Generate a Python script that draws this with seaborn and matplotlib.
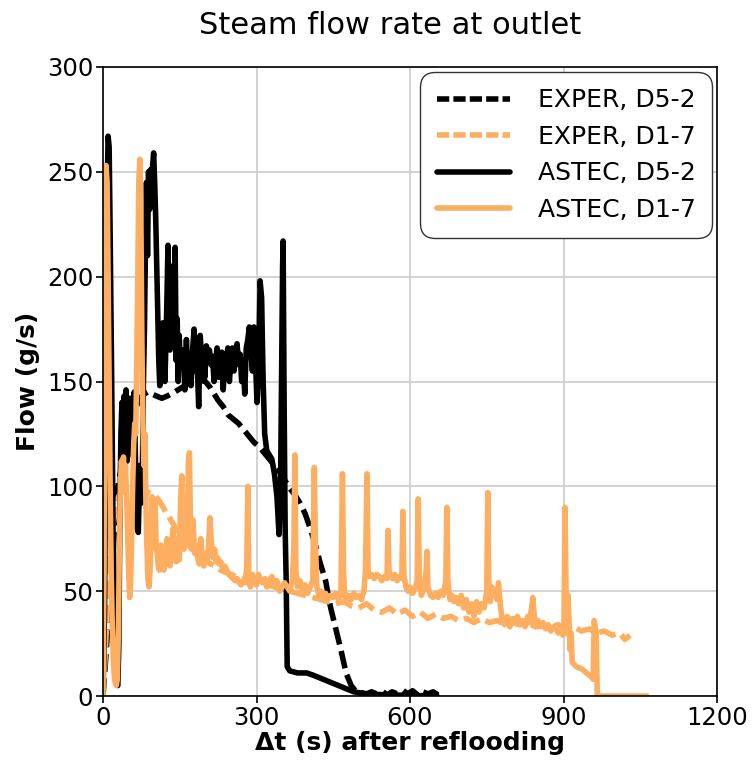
import numpy as np
import pandas as pd
import seaborn as sns
import matplotlib.pyplot as plt

# ---- measured outlet steam flow (g/s) vs time after reflooding (s) ----
exper_d52_t = [0, 4, 8, 10, 14, 17, 20, 23, 27, 32, 37, 43, 50, 57, 65, 72, 80, 88, 96, 105,
               115, 125, 140, 160, 180, 200, 210, 215, 225, 235, 245, 255, 265, 275, 285, 295,
               305, 315, 325, 335, 345, 355, 365, 375, 385, 395, 405, 415, 425, 435, 445, 455,
               465, 475, 485, 495, 505, 515, 525, 535, 545, 555, 565, 575, 585, 595, 605, 615,
               625, 635, 645, 655, 665]
exper_d52_v = [0, 13, 28, 41, 50, 55, 70, 84, 97, 104, 110, 117, 125, 132, 138, 142, 144, 145, 144, 143,
               142, 143, 145, 148, 151, 150, 147, 145, 141, 138, 134, 132, 130, 127, 124, 121,
               119, 116, 113, 110, 107, 103, 99, 96, 92, 87, 80, 72, 63, 55, 42, 32,
               22, 11, 5, 2, 1.5, 1, 2, 1, 2.5, 0.5, 2, 1, 3, 1, 2.5, 0.5,
               2, 1, 2, 0.5, 1]

exper_d17_t = [0, 4, 8, 12, 16, 20, 25, 30, 40, 50, 60, 70, 80, 90, 100, 110, 120, 130, 140, 150,
               160, 170, 180, 190, 200, 210, 220, 230, 240, 250, 260, 275, 290, 305, 320, 335, 350,
               365, 380, 395, 410, 425, 440, 455, 470, 485, 500, 515, 530, 545, 560, 575, 590,
               605, 620, 635, 650, 665, 680, 695, 710, 725, 740, 755, 770, 785, 800, 815, 830,
               845, 860, 875, 890, 905, 920, 935, 950, 965, 980, 995, 1010, 1020, 1030]
exper_d17_v = [0, 18, 40, 58, 72, 82, 90, 95, 98, 100, 100, 99, 98, 97, 96, 93, 89, 85, 81, 77,
               74, 71, 69, 67, 65, 63, 62, 60, 59, 58, 57, 56, 55, 54, 53, 52, 51,
               50, 49, 48, 47, 46, 45, 44, 45, 43, 42, 44, 41, 40, 42, 39, 41,
               38, 40, 37, 39, 37, 38, 36, 37, 35, 37, 35, 36, 34, 35, 34, 35,
               33, 34, 33, 34, 32, 33, 31, 32, 30, 31, 29, 30, 27, 29]

# ---- ASTEC simulation results ----
astec_d52_t = [0, 3, 6, 8, 10, 12, 14, 17, 20, 23, 26, 29, 31, 33, 35, 37, 39, 41, 43, 45,
               47, 49, 51, 53, 55, 57, 59, 61, 63, 65, 67, 69, 71, 73, 75, 77, 79, 81, 83, 85,
               87, 89, 91, 93, 95, 97, 99, 101, 103, 105, 107, 109, 111, 113, 115, 117, 119, 121,
               123, 125, 127, 129, 131, 133, 135, 137, 139, 141, 143, 145, 147, 149, 151, 154,
               157, 160, 163, 166, 169, 172, 175, 178, 181, 184, 187, 190, 193, 196, 199, 202,
               205, 208, 211, 214, 217, 220, 223, 226, 229, 232, 235, 238, 241, 244, 247, 250,
               253, 256, 259, 262, 265, 268, 271, 274, 277, 280, 283, 286, 289, 292, 295, 298,
               301, 304, 307, 310, 313, 316, 320, 325, 330, 335, 340, 344, 347, 349, 351, 352,
               354, 356, 358, 360, 365, 380, 398, 410, 430, 450, 470, 490, 510, 530, 560, 600, 650]
astec_d52_v = [0, 40, 160, 240, 267, 262, 220, 150, 70, 20, 6, 5, 25, 90, 125, 140, 108, 143, 118, 146,
               112, 140, 115, 142, 120, 138, 128, 145, 118, 95, 80, 78, 100, 110, 92, 108, 150, 175, 215, 245,
               210, 250, 232, 251, 238, 253, 259, 245, 228, 205, 180, 160, 148, 172, 155, 178, 158, 150,
               168, 190, 215, 175, 165, 205, 170, 198, 183, 214, 160, 180, 150, 172, 158, 165,
               165, 146, 170, 152, 162, 148, 165, 175, 155, 160, 138, 172, 160, 166, 152, 167,
               160, 165, 158, 162, 150, 160, 166, 152, 160, 164, 146, 163, 160, 166, 150, 160,
               166, 155, 162, 168, 158, 163, 150, 160, 144, 166, 170, 176, 165, 155, 176, 160,
               140, 155, 198, 190, 150, 125, 117, 115, 113, 106, 95, 77, 100, 150, 205, 217,
               140, 80, 55, 14, 12, 11, 11, 10, 8, 6, 4, 2, 1.2, 0.8, 0.5, 0.3, 0]

astec_d17_t = [0, 2, 4, 6, 8, 10, 12, 14, 16, 18, 20, 22, 24, 26, 28, 30, 32, 34, 36, 38,
               40, 42, 44, 46, 48, 50, 52, 54, 56, 58, 60, 62, 64, 66, 68, 70, 72, 74, 76, 78,
               80, 82, 84, 86, 88, 90, 92, 94, 96, 98, 100, 102, 104, 106, 108, 110, 113, 116, 119,
               122, 125, 128, 131, 134, 137, 140, 143, 146, 149, 152, 154, 156, 158, 161, 164, 167,
               169, 171, 173, 176, 179, 182, 185, 188, 191, 194, 197, 200, 203, 206, 209, 212, 215,
               218, 221, 224, 227, 230, 234, 238, 242, 246, 250, 254, 258, 262, 266, 270, 274, 278,
               281, 283, 285, 288, 292, 296, 300, 304, 308, 312, 316, 320, 325, 330, 335, 340, 345,
               350, 355, 360, 365, 370, 373, 375, 377, 380, 385, 390, 395, 400, 405, 410, 413, 415,
               418, 422, 426, 430, 435, 440, 445, 450, 455, 460, 465, 468, 470, 472, 476, 480, 485,
               490, 495, 500, 505, 510, 513, 516, 518, 520, 525, 530, 535, 540, 545, 550, 555, 557,
               559, 562, 566, 570, 575, 580, 584, 586, 588, 592, 596, 600, 605, 610, 614, 616, 618,
               622, 626, 630, 633, 635, 640, 645, 650, 655, 660, 665, 670, 672, 674, 678, 682, 686,
               690, 695, 700, 705, 710, 715, 720, 725, 730, 735, 740, 745, 750, 752, 754, 757, 760,
               765, 770, 773, 776, 780, 785, 790, 795, 800, 805, 810, 815, 820, 825, 830, 834, 840,
               843, 846, 850, 855, 860, 865, 870, 875, 880, 885, 890, 895, 899, 901, 903, 905, 907,
               909, 911, 913, 915, 917, 925, 935, 945, 955, 958, 960, 962, 964, 966, 1000, 1063]
astec_d17_v = [0, 60, 180, 253, 245, 200, 150, 100, 60, 35, 18, 10, 6, 5, 8, 30, 70, 100, 112, 105,
               114, 100, 110, 95, 80, 60, 47, 55, 75, 100, 120, 130, 125, 160, 200, 245, 256, 230, 170, 130,
               110, 125, 90, 70, 55, 52, 60, 75, 95, 88, 80, 92, 70, 68, 62, 60, 72, 62, 60,
               66, 75, 64, 62, 70, 80, 68, 64, 75, 65, 95, 105, 80, 70, 85, 72, 112,
               116, 80, 70, 84, 68, 72, 66, 63, 75, 66, 62, 68, 64, 70, 85, 72, 66,
               70, 64, 66, 63, 64, 61, 62, 60, 58, 57, 56, 55, 56, 54, 53, 55, 54,
               62, 100, 56, 52, 58, 55, 53, 58, 55, 54, 56, 52, 55, 57, 53, 55, 50,
               52, 54, 52, 50, 55, 70, 115, 60, 52, 55, 50, 53, 49, 52, 55, 109, 75,
               52, 48, 50, 47, 49, 46, 48, 47, 49, 46, 48, 106, 60, 50, 45, 48, 46,
               49, 47, 48, 46, 50, 60, 106, 60, 57, 58, 56, 58, 57, 55, 57, 56, 79,
               60, 57, 56, 58, 55, 57, 56, 88, 58, 52, 50, 52, 49, 51, 55, 94, 60,
               48, 50, 52, 69, 52, 48, 47, 49, 47, 50, 48, 55, 90, 55, 46, 48, 45,
               47, 44, 48, 42, 46, 40, 44, 38, 45, 40, 44, 42, 50, 97, 55, 45, 52,
               50, 46, 54, 45, 36, 34, 38, 33, 37, 35, 38, 34, 36, 33, 38, 35, 47,
               38, 34, 36, 33, 35, 32, 34, 31, 33, 32, 30, 31, 29, 35, 90, 50, 30,
               48, 35, 22, 30, 16, 14, 13, 11, 9, 8, 36, 33, 30, 0, 0, 0]

series_labels = ["EXPER, D5-2", "EXPER, D1-7", "ASTEC, D5-2", "ASTEC, D1-7"]
series_t = [exper_d52_t, exper_d17_t, astec_d52_t, astec_d17_t]
series_v = [exper_d52_v, exper_d17_v, astec_d52_v, astec_d17_v]

BLACK = "black"
ORANGE = "#fdae61"
colors = [BLACK, ORANGE, BLACK, ORANGE]
plot_dash = (0, (3.2, 1.2))
legend_dash = (0, (2.2, 0.75))
styles = [plot_dash, plot_dash, "-", "-"]

sns.set_style("whitegrid")
plt.rcParams["font.family"] = ["DejaVu Sans"]
plt.rcParams.update({"text.color": "black", "axes.labelcolor": "black",
                     "xtick.color": "black", "ytick.color": "black"})

fig = plt.figure(figsize=(7.52, 7.65), dpi=100)
ax = fig.add_axes([103 / 752, 1 - 696 / 765, 614 / 752, 629 / 765])

for lab, t, v, c, ls in zip(series_labels, series_t, series_v, colors, styles):
    df = pd.DataFrame({"t": t, "flow": v})
    sns.lineplot(data=df, x="t", y="flow", ax=ax, color=c, linestyle=ls,
                 linewidth=4, label=lab, sort=False, estimator=None)

ax.set_xlim(0, 1200)
ax.set_ylim(0, 300)
ax.set_xticks([0, 300, 600, 900, 1200])
ax.set_yticks([0, 50, 100, 150, 200, 250, 300])
ax.grid(True, color="#cccccc", linewidth=1.2)
for sp in ax.spines.values():
    sp.set_color("black")
    sp.set_linewidth(1.2)
ax.tick_params(axis="both", which="major", length=5, width=1.2, color="black",
               labelsize=17.5, direction="out", bottom=True, left=True, pad=2)

ax.set_xlabel("Δt (s) after reflooding", fontsize=18, fontweight="bold", labelpad=1)
ax.set_ylabel("Flow (g/s)", fontsize=18, fontweight="bold", labelpad=5)
fig.text(390 / 752, 1 - 25 / 765, "Steam flow rate at outlet", fontsize=22,
         ha="center", va="center")

leg = ax.legend(loc="upper right", fontsize=18, handlelength=2.95, handletextpad=1.1,
                labelspacing=0.5, borderaxespad=0.2, borderpad=0.65,
                fancybox=True, framealpha=1, edgecolor="#333333")
frame = leg.get_frame()
frame.set_linewidth(1.0)
frame.set_boxstyle("round", pad=0, rounding_size=0.6)
for i, line in enumerate(leg.get_lines()):
    if i < 2:
        line.set_linestyle(legend_dash)

fig.savefig("out.png", dpi=100)
